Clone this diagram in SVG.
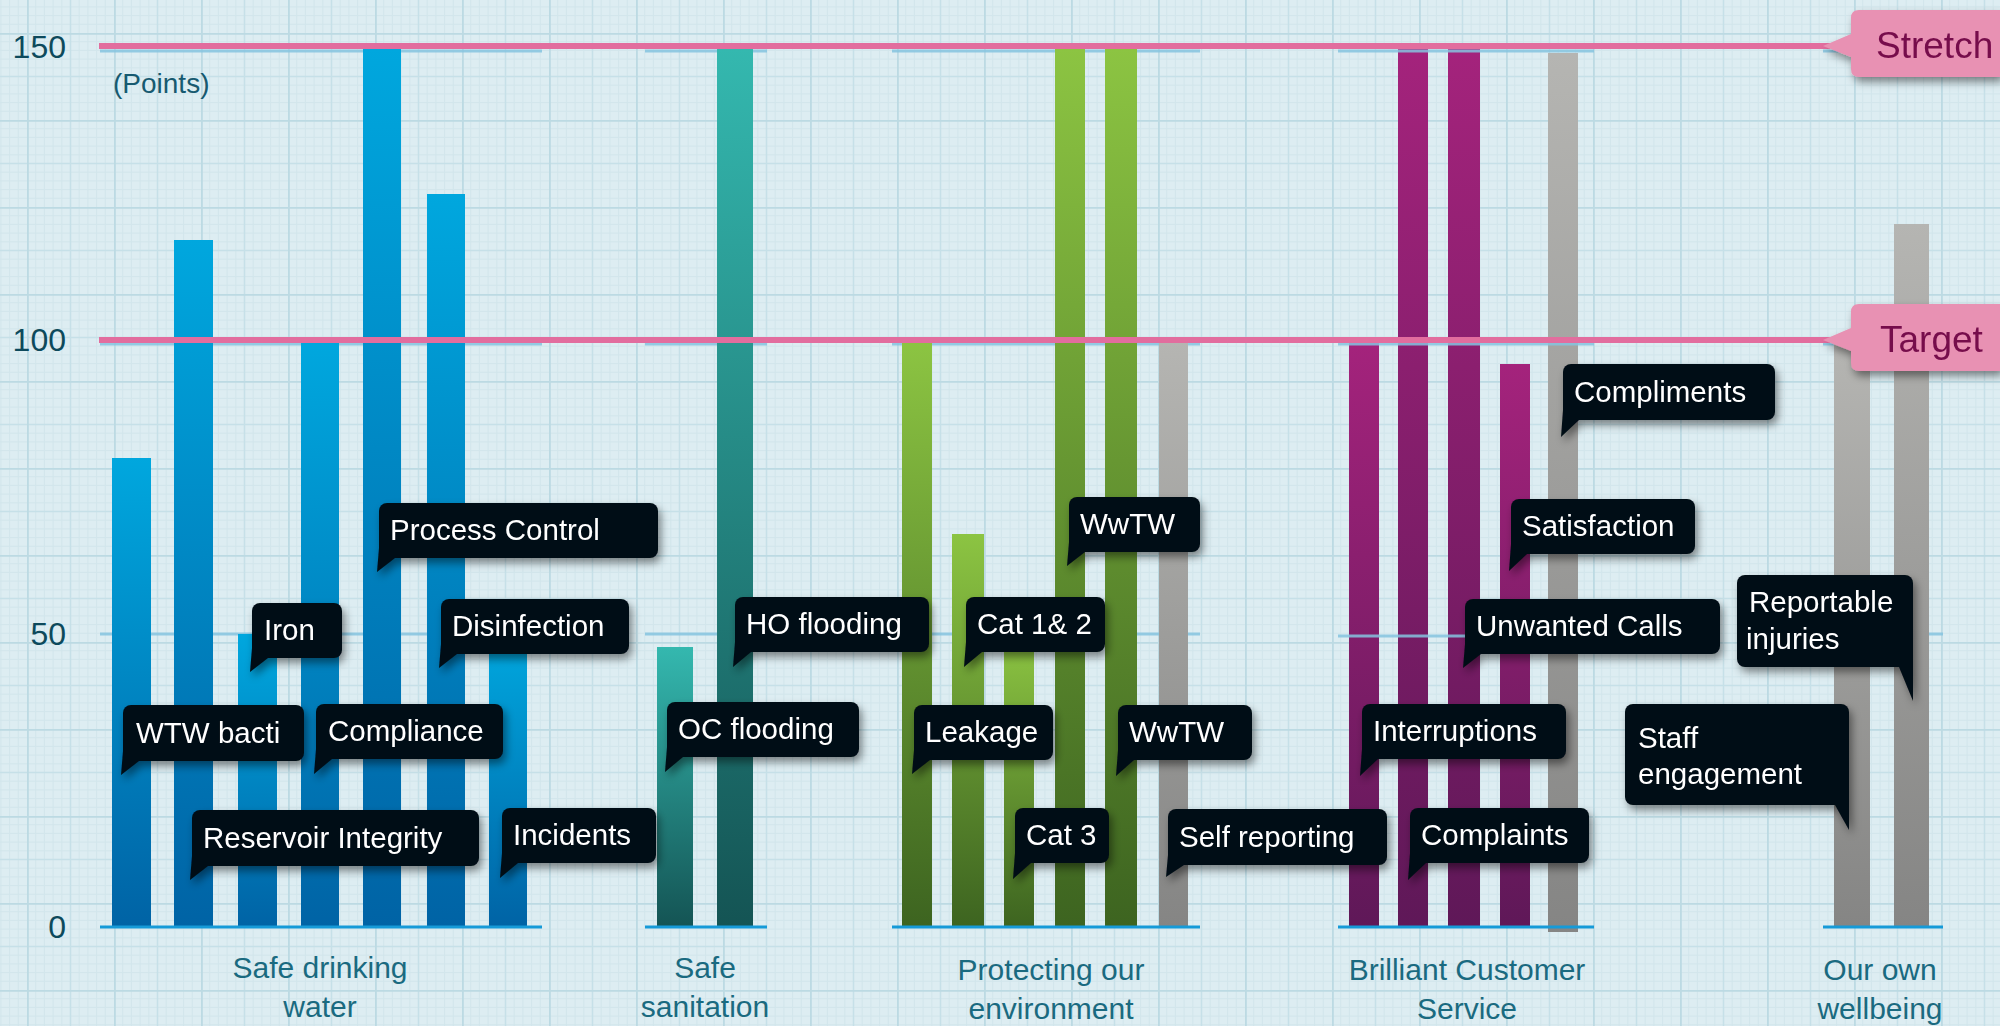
<svg xmlns="http://www.w3.org/2000/svg" width="2000" height="1026" viewBox="0 0 2000 1026">
<defs>
<pattern id="grid" patternUnits="userSpaceOnUse" x="27" y="33" width="87" height="87">
<rect width="87" height="87" fill="#ddedf2"/>
<g stroke="#d2e6ec" stroke-width="1">
<path d="M8.7 0V87M17.4 0V87M26.1 0V87M34.8 0V87M52.2 0V87M60.9 0V87M69.6 0V87M78.3 0V87"/>
<path d="M0 8.7H87M0 17.4H87M0 26.1H87M0 34.8H87M0 52.2H87M0 60.9H87M0 69.6H87M0 78.3H87"/>
</g>
<path d="M43.5 0V87M0 43.5H87" stroke="#c6e0e8" stroke-width="1.5"/>
<path d="M0.8 0V87M0 0.8H87" stroke="#bcdae3" stroke-width="2"/>
</pattern>
<linearGradient id="gBlue" x1="0" y1="0" x2="0" y2="1"><stop offset="0" stop-color="#00a7de"/><stop offset="1" stop-color="#0063a5"/></linearGradient>
<linearGradient id="gTeal" x1="0" y1="0" x2="0" y2="1"><stop offset="0" stop-color="#34b8af"/><stop offset="1" stop-color="#145454"/></linearGradient>
<linearGradient id="gGreen" x1="0" y1="0" x2="0" y2="1"><stop offset="0" stop-color="#8cc442"/><stop offset="1" stop-color="#3d6420"/></linearGradient>
<linearGradient id="gPurple" x1="0" y1="0" x2="0" y2="1"><stop offset="0" stop-color="#a4237c"/><stop offset="1" stop-color="#5f1858"/></linearGradient>
<linearGradient id="gGray" x1="0" y1="0" x2="0" y2="1"><stop offset="0" stop-color="#b5b5b2"/><stop offset="1" stop-color="#858584"/></linearGradient>
<filter id="shadow" x="-20%" y="-30%" width="140%" height="170%">
<feDropShadow dx="3" dy="5" stdDeviation="4" flood-color="#000" flood-opacity="0.45"/>
</filter>
<style>
.bg{fill:url(#grid)}
.blue{fill:url(#gBlue)}.teal{fill:url(#gTeal)}.green{fill:url(#gGreen)}.purple{fill:url(#gPurple)}.gray{fill:url(#gGray)}
.base{stroke:#159ad8;stroke-width:3}
.lvl{stroke:#86c4e0;stroke-width:3;opacity:0.85}
.pink{stroke:#e26d9e;stroke-width:6}
.axis{font-family:"Liberation Sans",Arial,sans-serif;font-size:32px;fill:#0d4a5c;text-anchor:end}
.unit{font-family:"Liberation Sans",Arial,sans-serif;font-size:28px;fill:#175a70}
.cat{font-family:"Liberation Sans",Arial,sans-serif;font-size:30px;fill:#1a6a80;text-anchor:middle}
.box{fill:#020c16}
.lbl{font-family:"Liberation Sans",Arial,sans-serif;font-size:29.5px;fill:#ffffff}
.pbox{fill:#e891b3}
.ptxt{font-family:"Liberation Sans",Arial,sans-serif;font-size:37px;fill:#760c4b}
</style>
</defs>
<rect class="bg" x="0" y="0" width="2000" height="1026"/>

<g id="axis">
<text class="axis" x="66" y="58">150</text>
<text class="axis" x="66" y="351">100</text>
<text class="axis" x="66" y="645">50</text>
<text class="axis" x="66" y="938">0</text>
<text class="unit" x="113" y="93">(Points)</text>
</g>

<g id="level-lines">
<path class="lvl" d="M100 51H542M100 344H542M100 634H542"/>
<path class="lvl" d="M645 51H767M645 344H767M645 634H767"/>
<path class="lvl" d="M892 51H1200M892 344H1200M892 634H1200"/>
<path class="lvl" d="M1823 51H1943M1823 344H1943M1823 634H1943"/>
</g>

<g id="group-safe-drinking-water">
<rect class="blue" x="112" y="458" width="39" height="469"/>
<rect class="blue" x="174" y="240" width="39" height="687"/>
<rect class="blue" x="238" y="634" width="39" height="293"/>
<rect class="blue" x="301" y="343" width="38" height="584"/>
<rect class="blue" x="363" y="49" width="38" height="878"/>
<rect class="blue" x="427" y="194" width="38" height="733"/>
<rect class="blue" x="489" y="640" width="38" height="287"/>
<line class="base" x1="100" y1="927" x2="542" y2="927"/>
<text class="cat" x="320" y="978">Safe drinking</text>
<text class="cat" x="320" y="1017">water</text>
</g>

<g id="group-safe-sanitation">
<rect class="teal" x="657" y="647" width="36" height="280"/>
<rect class="teal" x="717" y="49" width="36" height="878"/>
<line class="base" x1="645" y1="927" x2="767" y2="927"/>
<text class="cat" x="705" y="978">Safe</text>
<text class="cat" x="705" y="1017">sanitation</text>
</g>

<g id="group-environment">
<rect class="green" x="902" y="343" width="30" height="584"/>
<rect class="green" x="952" y="534" width="32" height="393"/>
<rect class="green" x="1004" y="640" width="30" height="287"/>
<rect class="green" x="1055" y="49" width="30" height="878"/>
<rect class="green" x="1105" y="49" width="32" height="878"/>
<rect class="gray" x="1159" y="343" width="29" height="584"/>
<line class="base" x1="892" y1="927" x2="1200" y2="927"/>
<text class="cat" x="1051" y="980">Protecting our</text>
<text class="cat" x="1051" y="1019">environment</text>
</g>

<g id="group-customer-service">
<rect class="purple" x="1349" y="343" width="30" height="584"/>
<rect class="purple" x="1398" y="49" width="30" height="878"/>
<rect class="purple" x="1448" y="49" width="32" height="878"/>
<rect class="purple" x="1500" y="364" width="30" height="563"/>
<rect class="gray" x="1548" y="53" width="30" height="879"/>
<path class="lvl" d="M1338 51H1594M1338 344H1594M1338 636H1594"/>
<line class="base" x1="1338" y1="927" x2="1594" y2="927"/>
<text class="cat" x="1467" y="980">Brilliant Customer</text>
<text class="cat" x="1467" y="1019">Service</text>
</g>

<g id="group-wellbeing">
<rect class="gray" x="1834" y="343" width="36" height="584"/>
<rect class="gray" x="1894" y="224" width="35" height="703"/>
<line class="base" x1="1823" y1="927" x2="1943" y2="927"/>
<text class="cat" x="1880" y="980">Our own</text>
<text class="cat" x="1880" y="1019">wellbeing</text>
</g>

<g id="reference-lines">
<line class="pink" x1="99" y1="46" x2="1830" y2="46"/>
<line class="pink" x1="99" y1="340" x2="1830" y2="340"/>
</g>

<g id="stretch-label" filter="url(#shadow)">
<path class="pbox" d="M1823 46L1851 34V18Q1851 10 1859 10H2000V77H1859Q1851 77 1851 69V57Z"/>
<text class="ptxt" x="1876" y="58">Stretch</text>
</g>
<g id="target-label" filter="url(#shadow)">
<path class="pbox" d="M1823 340L1851 328V312Q1851 304 1859 304H2000V371H1859Q1851 371 1851 363V351Z"/>
<text class="ptxt" x="1880" y="352">Target</text>
</g>

<g id="callout-process-control" filter="url(#shadow)">
<rect class="box" x="379" y="503" width="279" height="55" rx="8"/>
<path class="box" d="M379 548H397V558H395L377 572Z"/>
<text class="lbl" x="390" y="540">Process Control</text>
</g>
<g id="callout-iron" filter="url(#shadow)">
<rect class="box" x="252" y="603" width="90" height="55" rx="8"/>
<path class="box" d="M252 648H270V658H268L250 672Z"/>
<text class="lbl" x="264" y="640">Iron</text>
</g>
<g id="callout-disinfection" filter="url(#shadow)">
<rect class="box" x="441" y="599" width="188" height="55" rx="8"/>
<path class="box" d="M441 644H459V654H457L439 668Z"/>
<text class="lbl" x="452" y="636">Disinfection</text>
</g>
<g id="callout-wtw-bacti" filter="url(#shadow)">
<rect class="box" x="123" y="705" width="181" height="56" rx="8"/>
<path class="box" d="M123 751H141V761H139L121 775Z"/>
<text class="lbl" x="136" y="743">WTW bacti</text>
</g>
<g id="callout-compliance" filter="url(#shadow)">
<rect class="box" x="316" y="704" width="187" height="55" rx="8"/>
<path class="box" d="M316 749H334V759H332L314 774Z"/>
<text class="lbl" x="328" y="741">Compliance</text>
</g>
<g id="callout-reservoir" filter="url(#shadow)">
<rect class="box" x="192" y="810" width="287" height="56" rx="8"/>
<path class="box" d="M192 856H210V866H208L190 880Z"/>
<text class="lbl" x="203" y="848">Reservoir Integrity</text>
</g>
<g id="callout-incidents" filter="url(#shadow)">
<rect class="box" x="502" y="808" width="154" height="55" rx="8"/>
<path class="box" d="M502 853H520V863H518L500 878Z"/>
<text class="lbl" x="513" y="845">Incidents</text>
</g>
<g id="callout-oc-flooding" filter="url(#shadow)">
<rect class="box" x="667" y="702" width="192" height="55" rx="8"/>
<path class="box" d="M667 747H685V757H683L665 772Z"/>
<text class="lbl" x="678" y="739">OC flooding</text>
</g>
<g id="callout-ho-flooding" filter="url(#shadow)">
<rect class="box" x="735" y="597" width="194" height="55" rx="8"/>
<path class="box" d="M735 642H753V652H751L733 667Z"/>
<text class="lbl" x="746" y="634">HO flooding</text>
</g>
<g id="callout-wwtw-1" filter="url(#shadow)">
<rect class="box" x="1069" y="497" width="131" height="55" rx="8"/>
<path class="box" d="M1069 542H1087V552H1085L1067 566Z"/>
<text class="lbl" x="1080" y="534">WwTW</text>
</g>
<g id="callout-cat12" filter="url(#shadow)">
<rect class="box" x="966" y="597" width="139" height="55" rx="8"/>
<path class="box" d="M966 642H984V652H982L964 667Z"/>
<text class="lbl" x="977" y="634">Cat 1&amp; 2</text>
</g>
<g id="callout-leakage" filter="url(#shadow)">
<rect class="box" x="914" y="705" width="139" height="55" rx="8"/>
<path class="box" d="M914 750H932V760H930L912 774Z"/>
<text class="lbl" x="925" y="742">Leakage</text>
</g>
<g id="callout-wwtw-2" filter="url(#shadow)">
<rect class="box" x="1118" y="705" width="134" height="55" rx="8"/>
<path class="box" d="M1118 750H1136V760H1134L1116 776Z"/>
<text class="lbl" x="1129" y="742">WwTW</text>
</g>
<g id="callout-cat3" filter="url(#shadow)">
<rect class="box" x="1015" y="808" width="94" height="55" rx="8"/>
<path class="box" d="M1015 853H1033V863H1031L1013 879Z"/>
<text class="lbl" x="1026" y="845">Cat 3</text>
</g>
<g id="callout-self-reporting" filter="url(#shadow)">
<rect class="box" x="1168" y="809" width="219" height="56" rx="8"/>
<path class="box" d="M1168 855H1186V865H1184L1166 877Z"/>
<text class="lbl" x="1179" y="847">Self reporting</text>
</g>
<g id="callout-compliments" filter="url(#shadow)">
<rect class="box" x="1563" y="364" width="212" height="56" rx="8"/>
<path class="box" d="M1563 410H1581V420H1579L1561 437Z"/>
<text class="lbl" x="1574" y="402">Compliments</text>
</g>
<g id="callout-satisfaction" filter="url(#shadow)">
<rect class="box" x="1511" y="499" width="184" height="55" rx="8"/>
<path class="box" d="M1511 544H1529V554H1527L1509 571Z"/>
<text class="lbl" x="1522" y="536">Satisfaction</text>
</g>
<g id="callout-unwanted-calls" filter="url(#shadow)">
<rect class="box" x="1465" y="599" width="255" height="55" rx="8"/>
<path class="box" d="M1465 644H1483V654H1481L1463 668Z"/>
<text class="lbl" x="1476" y="636">Unwanted Calls</text>
</g>
<g id="callout-interruptions" filter="url(#shadow)">
<rect class="box" x="1362" y="704" width="204" height="55" rx="8"/>
<path class="box" d="M1362 749H1380V759H1378L1360 776Z"/>
<text class="lbl" x="1373" y="741">Interruptions</text>
</g>
<g id="callout-complaints" filter="url(#shadow)">
<rect class="box" x="1410" y="808" width="179" height="55" rx="8"/>
<path class="box" d="M1410 853H1428V863H1426L1408 880Z"/>
<text class="lbl" x="1421" y="845">Complaints</text>
</g>
<g id="callout-reportable-injuries" filter="url(#shadow)">
<rect class="box" x="1737" y="575" width="176" height="92" rx="8"/>
<path class="box" d="M1913 657H1897V667H1899L1913 701Z"/>
<text class="lbl" x="1749" y="612">Reportable</text>
<text class="lbl" x="1746" y="649">injuries</text>
</g>
<g id="callout-staff-engagement" filter="url(#shadow)">
<rect class="box" x="1625" y="704" width="224" height="101" rx="8"/>
<path class="box" d="M1849 795H1833V805H1835L1849 830Z"/>
<text class="lbl" x="1638" y="748">Staff</text>
<text class="lbl" x="1638" y="784">engagement</text>
</g>
</svg>
